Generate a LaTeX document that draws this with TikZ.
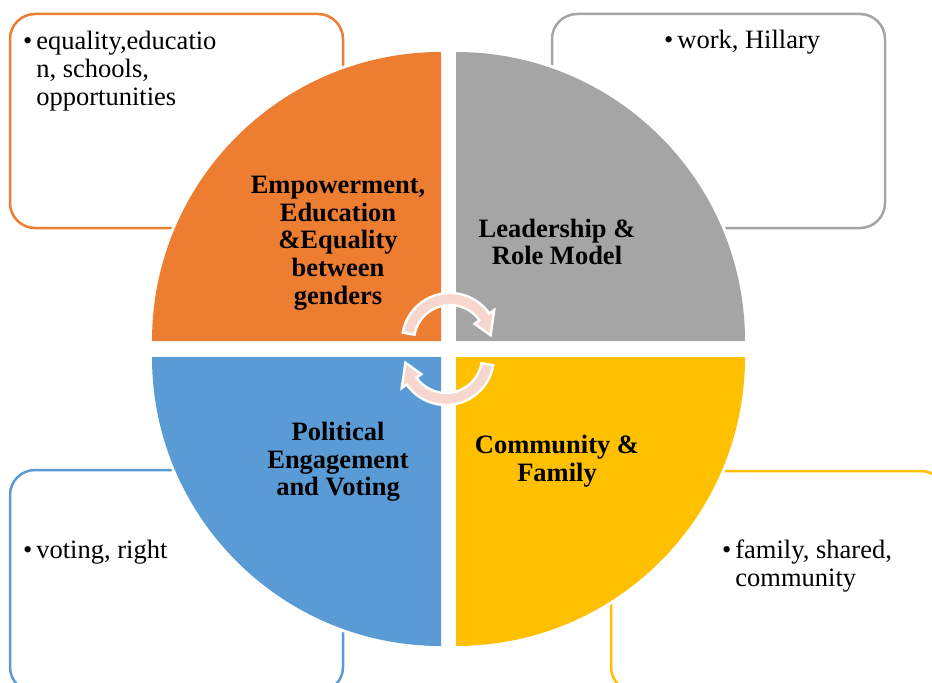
\documentclass[tikz,border=0pt]{standalone}
\usepackage{fontspec}
\setmainfont{Liberation Serif}
\usetikzlibrary{positioning}
\definecolor{eduOrange}{HTML}{ED7D31}
\definecolor{leadGray}{HTML}{A5A5A5}
\definecolor{polBlue}{HTML}{5B9BD5}
\definecolor{famYellow}{HTML}{FFC000}
\definecolor{arrowPink}{HTML}{F7D7CD}

\begin{document}
\begin{tikzpicture}[
    x=0.5pt, y=0.5pt,
    notebox/.style={rounded corners=12.5pt, line width=1.25pt},
    quarter/.style={preaction={draw=white, line width=3pt}},
    quadlabel/.style={font=\fontsize{13.25}{13.85}\selectfont\bfseries, align=center, inner sep=0pt},
    bullettext/.style={font=\fontsize{13.25}{13.85}\selectfont, align=left, anchor=west, inner sep=0pt},
    cycarrow/.style={fill=arrowPink, draw=white, line width=1.2pt}
]
    \clip (0,0) rectangle (932,682);

    % Note boxes
    \draw[notebox, draw=eduOrange] (10,454) rectangle (343,668);
    \draw[notebox, draw=leadGray] (552,454) rectangle (885,668);
    \draw[notebox, draw=polBlue] (10,-10) rectangle (343,212);
    \draw[notebox, draw=famYellow] (611,-10) rectangle (946,211);

    % Quarter discs
    \fill[eduOrange, quarter] (441,341) -- (152,341) arc[start angle=180, end angle=90, radius=289] -- cycle;
    \fill[leadGray, quarter] (456,341) -- (456,630) arc[start angle=90, end angle=0, radius=289] -- cycle;
    \fill[famYellow, quarter] (456,325) -- (745,325) arc[start angle=0, end angle=-90, radius=289] -- cycle;
    \fill[polBlue, quarter] (441,325) -- (441,36) arc[start angle=270, end angle=180, radius=289] -- cycle;

    % Quarter labels
    \node[quadlabel] (edu) at (338,439) {Empowerment,\\Education\\\&Equality\\between\\genders};
    \node[quadlabel] (lead) at (557,440) {Leadership \&\\Role Model};
    \node[quadlabel] (fam) at (557,221) {Community \&\\Family};
    \node[quadlabel] (pol) at (338,220) {Political\\Engagement\\and Voting};

    % Note texts
    \node[bullettext] (eduNote) at (36,611) {\llap{\textbullet\hspace{2pt}}equality,educatio\\n, schools,\\opportunities};
    \node[bullettext] (leadNote) at (677,640) {\llap{\textbullet\hspace{2pt}}work, Hillary};
    \node[bullettext] (polNote) at (36,130) {\llap{\textbullet\hspace{2pt}}voting, right};
    \node[bullettext] (famNote) at (735,116) {\llap{\textbullet\hspace{2pt}}family, shared,\\community};

    % Cycle arrows
    \begin{scope}[shift={(450,341)}]
        \path[cycarrow] (170:48) arc[start angle=170, end angle=35, radius=48] -- (35:54) -- (8:41) -- (35:30) -- (35:36) arc[start angle=35, end angle=170, radius=36] -- cycle;
    \end{scope}
    \begin{scope}[shift={(446,325)}]
        \path[cycarrow] (-10:48) arc[start angle=-10, end angle=-145, radius=48] -- (-145:54) -- (-172:41) -- (-145:30) -- (-145:36) arc[start angle=-145, end angle=-10, radius=36] -- cycle;
    \end{scope}
\end{tikzpicture}
\end{document}
